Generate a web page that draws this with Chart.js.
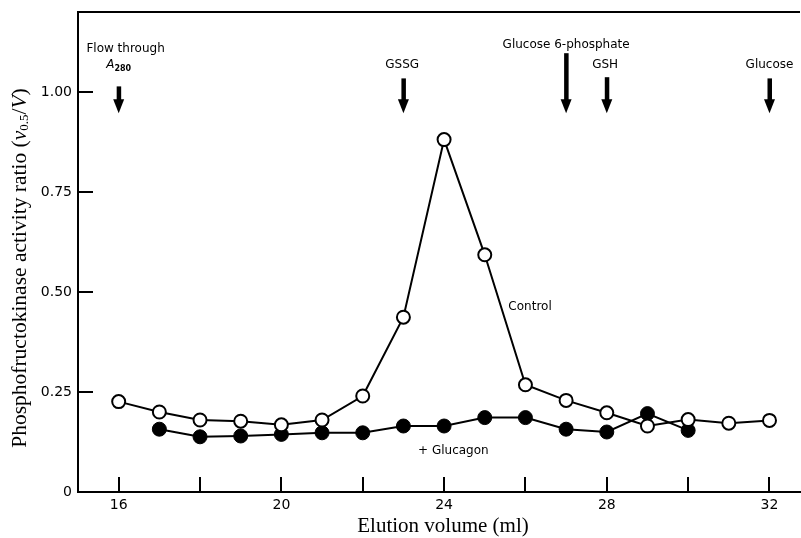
<!DOCTYPE html>
<html>
<head>
<meta charset="utf-8">
<script src="https://cdn.jsdelivr.net/npm/chart.js@4.4.0/dist/chart.umd.min.js"></script>
<style>
html, body { margin: 0; padding: 0; background: #fff; }
canvas { display: block; }
</style>
</head>
<body>
<canvas id="elution" width="801" height="538"></canvas>
<script>
// elution volume (ml) and activity ratio
const controlVolumes = [16, 17, 18, 19, 20, 21, 22, 23, 24, 25, 26, 27, 28, 29, 30, 31, 32];
const controlRatio = [0.226, 0.20, 0.18, 0.177, 0.168, 0.18, 0.24, 0.437, 0.881, 0.593, 0.268, 0.229, 0.198, 0.165, 0.181, 0.172, 0.179];
const glucagonVolumes = [17, 18, 19, 20, 21, 22, 23, 24, 25, 26, 27, 28, 29, 30];
const glucagonRatio = [0.157, 0.138, 0.14, 0.144, 0.148, 0.148, 0.165, 0.165, 0.186, 0.186, 0.157, 0.15, 0.196, 0.154];

const xTicks = [16, 18, 20, 22, 24, 26, 28, 30, 32];
const xLabelled = [16, 20, 24, 28, 32];
const yTicks = [0, 0.25, 0.5, 0.75, 1.0];
const yTickLabels = ['0', '0.25', '0.50', '0.75', '1.00'];

// where the marker compounds come off the column
const markerVolumes = [16, 23, 27, 28, 32];
const markerNames = ['Flow through', 'GSSG', 'Glucose 6-phosphate', 'GSH', 'Glucose'];

const seriesNames = ['Control', '+ Glucagon'];

const sans = "'DejaVu Sans', Arial, sans-serif";
const serif = "'Liberation Serif', 'Times New Roman', serif";

function toPoints(xs, ys) {
    return xs.map(function (v, i) { return { x: v, y: ys[i] }; });
}

// arrow top / tip and label position, in axis units
const arrowTop = [1.014, 1.034, 1.097, 1.037, 1.034];
const arrowTip = 0.947;
const labelY = [1.109, 1.067, 1.117, 1.067, 1.067];
const labelShift = [0.17, -0.03, 0, -0.04, 0];

function noPad(s) {
    s.paddingLeft = 0; s.paddingRight = 0; s.paddingTop = 0; s.paddingBottom = 0;
}

const figurePlugin = {
    id: 'figure',
    afterDraw: function (chart) {
        const ctx = chart.ctx;
        const xs = chart.scales.x, ys = chart.scales.y;
        const area = chart.chartArea;
        ctx.save();
        ctx.strokeStyle = '#000';
        ctx.fillStyle = '#000';

        // top frame line
        ctx.lineWidth = 2;
        ctx.beginPath();
        ctx.moveTo(area.left, area.top);
        ctx.lineTo(area.right, area.top);
        ctx.stroke();

        // inward tick marks
        xTicks.forEach(function (v) {
            const px = Math.round(xs.getPixelForValue(v));
            ctx.beginPath();
            ctx.moveTo(px, area.bottom);
            ctx.lineTo(px, area.bottom - 15);
            ctx.stroke();
        });
        yTicks.forEach(function (v) {
            if (v === 0) return;
            const py = Math.round(ys.getPixelForValue(v));
            ctx.beginPath();
            ctx.moveTo(area.left, py);
            ctx.lineTo(area.left + 15, py);
            ctx.stroke();
        });

        // arrows and marker labels
        markerVolumes.forEach(function (v, i) {
            const px = xs.getPixelForValue(v);
            const top = ys.getPixelForValue(arrowTop[i]);
            const tip = ys.getPixelForValue(arrowTip);
            ctx.fillRect(px - 2, top, 4.5, tip - top - 12);
            ctx.beginPath();
            ctx.moveTo(px - 5.5, tip - 14);
            ctx.lineTo(px + 5.5, tip - 14);
            ctx.lineTo(px, tip);
            ctx.closePath();
            ctx.fill();

            ctx.font = '12px ' + sans;
            ctx.textAlign = 'center';
            ctx.textBaseline = 'middle';
            ctx.fillText(markerNames[i], xs.getPixelForValue(v + labelShift[i]), ys.getPixelForValue(labelY[i]));
        });

        // A280 under "Flow through"
        const ax = xs.getPixelForValue(markerVolumes[0]);
        const ay = ys.getPixelForValue(1.067);
        ctx.textAlign = 'left';
        ctx.font = 'italic 12px ' + sans;
        const aw = ctx.measureText('A').width;
        ctx.font = 'bold 8px ' + sans;
        const sw = ctx.measureText('280').width;
        const start = ax - (aw + sw) / 2;
        ctx.font = 'italic 12px ' + sans;
        ctx.fillText('A', start, ay);
        ctx.font = 'bold 8px ' + sans;
        ctx.fillText('280', start + aw, ay + 4);

        // series labels
        ctx.font = '12px ' + sans;
        ctx.textAlign = 'left';
        ctx.fillText(seriesNames[0], xs.getPixelForValue(25.58), ys.getPixelForValue(0.462));
        ctx.fillText(seriesNames[1], xs.getPixelForValue(23.36), ys.getPixelForValue(0.104));

        // x axis title
        ctx.font = '21px ' + serif;
        ctx.textAlign = 'center';
        ctx.fillText('Elution volume (ml)', (area.left + area.right) / 2 + 4, 526);

        // y axis title with subscript
        const parts = [
            { t: 'Phosphofructokinase activity ratio (', f: '21.5px ' + serif, dy: 0 },
            { t: 'v', f: 'italic 21.5px ' + serif, dy: 0 },
            { t: '0.5', f: '13px ' + serif, dy: 5 },
            { t: '/', f: '21.5px ' + serif, dy: 0 },
            { t: 'V', f: 'italic 21.5px ' + serif, dy: 0 },
            { t: ')', f: '21.5px ' + serif, dy: 0 }
        ];
        let total = 0;
        parts.forEach(function (p) { ctx.font = p.f; p.w = ctx.measureText(p.t).width; total += p.w; });
        ctx.translate(20, 268);
        ctx.rotate(-Math.PI / 2);
        ctx.textAlign = 'left';
        let cx = -total / 2;
        parts.forEach(function (p) {
            ctx.font = p.f;
            ctx.fillText(p.t, cx, p.dy);
            cx += p.w;
        });
        ctx.restore();
    }
};

const ctx = document.getElementById('elution').getContext('2d');

const elutionChart = new Chart(ctx, {
    type: 'line',
    data: {
        datasets: [{
            label: seriesNames[0],
            data: toPoints(controlVolumes, controlRatio),
            borderColor: '#000',
            borderWidth: 2,
            pointRadius: 6.5,
            pointBorderWidth: 2,
            pointBackgroundColor: '#fff',
            pointBorderColor: '#000',
            tension: 0
        }, {
            label: seriesNames[1],
            data: toPoints(glucagonVolumes, glucagonRatio),
            borderColor: '#000',
            borderWidth: 2,
            pointRadius: 7,
            pointBorderWidth: 1,
            pointBackgroundColor: '#000',
            pointBorderColor: '#000',
            tension: 0
        }]
    },
    options: {
        responsive: false,
        animation: false,
        clip: false,
        layout: { autoPadding: false, padding: { top: 12, right: 1, left: 0, bottom: 0 } },
        plugins: {
            legend: { display: false },
            tooltip: { enabled: false }
        },
        scales: {
            x: {
                type: 'linear',
                min: 15,
                max: 32.75,
                afterFit: function (s) { s.height = 46; noPad(s); },
                afterBuildTicks: function (s) { s.ticks = xTicks.map(function (v) { return { value: v }; }); },
                grid: { display: true, drawOnChartArea: false, drawTicks: false, color: 'rgba(0,0,0,0)' },
                border: { display: true, color: '#000', width: 2 },
                ticks: {
                    autoSkip: false,
                    maxRotation: 0,
                    padding: 5,
                    color: '#000',
                    font: { family: sans, size: 14 },
                    callback: function (v) { return xLabelled.indexOf(v) >= 0 ? String(v) : ''; }
                }
            },
            y: {
                min: 0,
                max: 1.2,
                afterFit: function (s) { s.width = 78; noPad(s); },
                afterBuildTicks: function (s) { s.ticks = yTicks.map(function (v) { return { value: v }; }); },
                grid: { display: true, drawOnChartArea: false, drawTicks: false, color: 'rgba(0,0,0,0)' },
                border: { display: true, color: '#000', width: 2 },
                ticks: {
                    autoSkip: false,
                    padding: 6,
                    color: '#000',
                    font: { family: sans, size: 14 },
                    callback: function (v) { return yTickLabels[yTicks.indexOf(v)]; }
                }
            }
        }
    },
    plugins: [figurePlugin]
});
</script>
</body>
</html>
